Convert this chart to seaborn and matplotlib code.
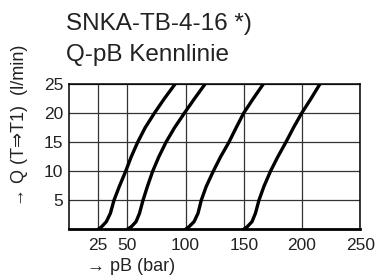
import pandas as pd
import seaborn as sns
import matplotlib.pyplot as plt

# ── Data ──────────────────────────────────────────────────────────────────────
curve_names = ["c1", "c2", "c3", "c4"]
q_vals = [0, 0.45, 1.3, 2.75, 5, 7.4, 10, 12.5, 15, 17.5, 20, 22.5, 25]
pb_c1 = [25, 28, 32, 35.5, 38.6, 43.2, 48.6, 53.4, 58.9, 65.3, 73.2, 81.7, 90.9]
pb_c2 = [50, 53.5, 57.5, 60.5, 63.5, 67.3, 71.8, 77.1, 83.2, 90.5, 98.9, 107.6, 116.6]
pb_c3 = [100, 103, 107.3, 110.7, 113.5, 117.8, 123.8, 130.1, 137.2, 143.4, 149.8, 158, 166.6]
pb_c4 = [150, 153, 157, 160, 163, 167.3, 172.9, 179.2, 186.1, 192.6, 199.6, 207.6, 215.2]

x_ticks = [25, 50, 100, 150, 200, 250]
y_ticks = [5, 10, 15, 20, 25]

title1 = "SNKA-TB-4-16 *)"
title2 = "Q-pB Kennlinie"
x_label = "→ pB (bar)"
y_label = "→ Q (T⇒T1)  (l/min)"

rows = []
for name, pb in zip(curve_names, [pb_c1, pb_c2, pb_c3, pb_c4]):
    for p, q in zip(pb, q_vals):
        rows.append({"curve": name, "pB": p, "Q": q})
df = pd.DataFrame(rows)

# ── Plot ──────────────────────────────────────────────────────────────────────
sns.set_style("white")
plt.rcParams["font.family"] = ["Liberation Sans", "DejaVu Sans"]

W, H = 378, 279
fig = plt.figure(figsize=(W / 100, H / 100), dpi=100)
ax = fig.add_axes([69 / W, 1 - 229.3 / H, (360.3 - 69) / W, (229.3 - 84.3) / H])

sns.lineplot(data=df, x="pB", y="Q", hue="curve", units="curve", estimator=None,
             sort=False, palette=["black"] * 4, linewidth=2.4, legend=False, ax=ax,
             solid_joinstyle="round", solid_capstyle="round")

ax.set_xlim(0, 250)
ax.set_ylim(0, 25)
ax.set_xticks(x_ticks)
ax.set_yticks(y_ticks)
ax.tick_params(length=0, labelsize=12.5, colors="#222222")
ax.tick_params(axis="y", pad=4)
ax.tick_params(axis="x", pad=6)
ax.grid(True, color="#333333", linewidth=0.9)
ax.set_axisbelow(True)
ax.set_xlabel("")
ax.set_ylabel("")
for s in ax.spines.values():
    s.set_visible(True)
    s.set_color("black")
    s.set_linewidth(1.1)
ax.spines["bottom"].set_linewidth(2)

fig.text(66 / W, 1 - 30 / H, title1, fontsize=17.5, color="#222222", va="baseline")
fig.text(66 / W, 1 - 61 / H, title2, fontsize=17.5, color="#222222", va="baseline")
fig.text(87 / W, 1 - 266.7 / H, x_label, fontsize=13, color="#222222", va="center")
fig.text(20 / W, 1 - 206 / H, y_label, fontsize=13, color="#222222",
         rotation=90, ha="center", va="bottom")

fig.savefig("out.png", dpi=100)
